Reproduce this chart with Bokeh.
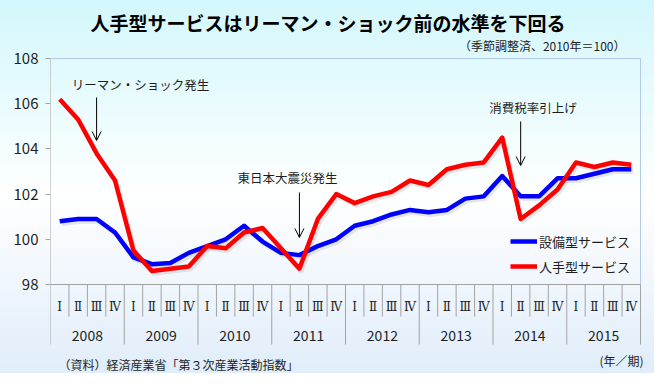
from bokeh.plotting import figure
from bokeh.models import (Range1d, FixedTicker, LinearAxis, ColumnDataSource,
                          Arrow, OpenHead, Legend, LegendItem)
from bokeh.embed import file_html
from bokeh.resources import INLINE
from bokeh.core.properties import value

# ---------------- data ----------------
years = ["2008", "2009", "2010", "2011", "2012", "2013", "2014", "2015"]
quarters = ["Ⅰ", "Ⅱ", "Ⅲ", "Ⅳ"]
series_names = ["設備型サービス", "人手型サービス"]
equipment_services = [100.8, 100.9, 100.9, 100.3, 99.2, 98.9, 98.95, 99.4,
                      99.7, 100.0, 100.6, 99.9, 99.4, 99.3, 99.7, 100.0,
                      100.6, 100.8, 101.1, 101.3, 101.2, 101.3, 101.8, 101.9,
                      102.8, 101.9, 101.9, 102.7, 102.7, 102.9, 103.1, 103.1]
labour_services = [106.2, 105.3, 103.8, 102.6, 99.5, 98.6, 98.7, 98.8,
                   99.7, 99.6, 100.3, 100.5, 99.6, 98.7, 100.9, 102.0,
                   101.6, 101.9, 102.1, 102.6, 102.4, 103.1, 103.3, 103.4,
                   104.5, 100.9, 101.5, 102.2, 103.4, 103.2, 103.4, 103.3]
y_ticks = [98, 100, 102, 104, 106, 108]
events = ["リーマン・ショック発生", "東日本大震災発生", "消費税率引上げ"]
event_quarter = [2, 13, 25]          # quarter index the arrow points at
title_text = "人手型サービスはリーマン・ショック前の水準を下回る"
subtitle_text = "（季節調整済、2010年＝100）"
source_text = "（資料）経済産業省「第３次産業活動指数」"
unit_text = "(年／期)"

# ---------------- layout (pixels inside the 654x373 figure) ----------------
W, H = 654, 373
LEFT, RIGHT_EDGE, TOP, BOTTOM = 50, 640, 58, 284   # chart box
n = len(years) * len(quarters)
y0, y1 = y_ticks[0], y_ticks[-1]
ux = (RIGHT_EDGE - LEFT) / n          # px per quarter
uy = (BOTTOM - TOP) / (y1 - y0)       # px per index point


def dx(px):   # figure pixel -> x data
    return (px - LEFT) / ux


def dy(py):   # figure pixel -> y data
    return y0 + (BOTTOM - py) / uy


FONT = "Noto Sans CJK JP"
GRAY = "#a3a3a3"
FRAME_BLUE = "#b3cbe8"
TXT = "#1e1e1e"

xs = [i + 0.5 for i in range(n)]

p = figure(width=W, height=H, output_backend="svg", toolbar_location=None,
           x_range=Range1d(0, dx(W)), y_range=Range1d(dy(H), dy(0)),
           x_axis_type=None, y_axis_type=None,
           min_border_left=LEFT, min_border_right=0, min_border_top=0,
           min_border_bottom=0)
p.styles = {"background": "linear-gradient(to bottom, #d2f7fc 0%, #f4fdfe 40%, #ffffff 52%, #e0edfa 100%)"}
p.border_fill_color = None
p.background_fill_color = None
p.outline_line_color = None
p.xgrid.visible = False
p.ygrid.visible = False

# y axis (ticks only; box lines drawn below)
yax = LinearAxis(ticker=FixedTicker(ticks=y_ticks, minor_ticks=[]),
                 axis_line_color=None, major_tick_line_color=GRAY,
                 major_tick_out=5, major_tick_in=0, minor_tick_line_color=None,
                 major_label_text_font=FONT, major_label_text_font_size="15px",
                 major_label_text_color=TXT, major_label_standoff=7)
p.add_layout(yax, "left")

# chart box
p.segment(x0=[0, n], y0=[y1, y0], x1=[n, n], y1=[y1, y1],
          line_color=FRAME_BLUE, line_width=1)
p.segment(x0=[0], y0=[y0], x1=[n], y1=[y0], line_color=GRAY, line_width=1)
p.segment(x0=[0], y0=[y0], x1=[0], y1=[y1], line_color=GRAY, line_width=1)

# quarter / year separators under the box
q_bottom = dy(BOTTOM + 32)
yr_bottom = dy(BOTTOM + 60)
sep_x = list(range(n + 1))
sep_end = [yr_bottom if i % len(quarters) == 0 else q_bottom for i in sep_x]
p.segment(x0=sep_x, y0=[y0] * len(sep_x), x1=sep_x, y1=sep_end,
          line_color=GRAY, line_width=1)

q_src = ColumnDataSource(dict(x=xs, y=[dy(BOTTOM + 22)] * n,
                              text=[q for _ in years for q in quarters]))
p.text(x="x", y="y", text="text", source=q_src, text_align="center",
       text_baseline="middle", text_font=value("DejaVu Serif"),
       text_font_size="12px", text_color=TXT)
yr_src = ColumnDataSource(dict(x=[i * len(quarters) + len(quarters) / 2 for i in range(len(years))],
                               y=[dy(BOTTOM + 51)] * len(years), text=years))
p.text(x="x", y="y", text="text", source=yr_src, text_align="center",
       text_baseline="middle", text_font=value(FONT), text_font_size="14px",
       text_color=TXT)

# series (with a soft shadow)
src = ColumnDataSource(dict(x=xs, eq=equipment_services, lab=labour_services,
                            xs_sh=[v + 2 / ux for v in xs],
                            eq_sh=[v - 2.5 / uy for v in equipment_services],
                            lab_sh=[v - 2.5 / uy for v in labour_services]))
p.line("xs_sh", "eq_sh", source=src, line_color="#7f7f7f", line_alpha=0.18,
       line_width=4.5, line_join="round")
p.line("xs_sh", "lab_sh", source=src, line_color="#7f7f7f", line_alpha=0.18,
       line_width=4.5, line_join="round")
r_eq = p.line("x", "eq", source=src, line_color="#0000ff", line_width=4.5,
              line_join="round")
r_lab = p.line("x", "lab", source=src, line_color="#ff0000", line_width=4.5,
               line_join="round")

legend = Legend(items=[LegendItem(label=series_names[0], renderers=[r_eq]),
                       LegendItem(label=series_names[1], renderers=[r_lab])],
                location=(460, H - BOTTOM + 8), glyph_width=27, glyph_height=20,
                label_height=20, spacing=5, padding=0, margin=0,
                label_standoff=2, border_line_alpha=0, background_fill_alpha=0,
                label_text_font=FONT, label_text_font_size="13px",
                label_text_color=TXT)
p.add_layout(legend)

# event arrows and texts
a_src = ColumnDataSource(dict(x=[q + 0.5 for q in event_quarter],
                              top=[dy(97), dy(192), dy(121)],
                              bot=[dy(140), dy(237), dy(165)]))
p.add_layout(Arrow(end=OpenHead(size=9, line_color="#000000", line_width=1),
                   x_start="x", y_start="top", x_end="x", y_end="bot",
                   source=a_src, line_color="#000000", line_width=1))
e_src = ColumnDataSource(dict(x=[dx(140), dx(287), dx(532.5)],
                              y=[dy(84), dy(177), dy(107)], text=events))
p.text(x="x", y="y", text="text", source=e_src, text_align="center",
       text_baseline="middle", text_font=value(FONT), text_font_size="12.5px",
       text_color=TXT)

# titles and notes
p.text(x=[dx(327.5)], y=[dy(22)], text=[title_text], text_align="center",
       text_baseline="middle", text_font=value(FONT), text_font_size="19px",
       text_font_style="bold", text_color="#000000")
p.text(x=[dx(625)], y=[dy(45)], text=[subtitle_text], text_align="right",
       text_baseline="middle", text_font=value(FONT), text_font_size="12px",
       text_color=TXT)
p.text(x=[dx(58)], y=[dy(364)], text=[source_text], text_align="left",
       text_baseline="middle", text_font=value(FONT), text_font_size="12px",
       text_color=TXT)
p.text(x=[dx(643)], y=[dy(360)], text=[unit_text], text_align="right",
       text_baseline="middle", text_font=value(FONT), text_font_size="12px",
       text_color=TXT)

open("out.html", "w").write(file_html(p, INLINE))
